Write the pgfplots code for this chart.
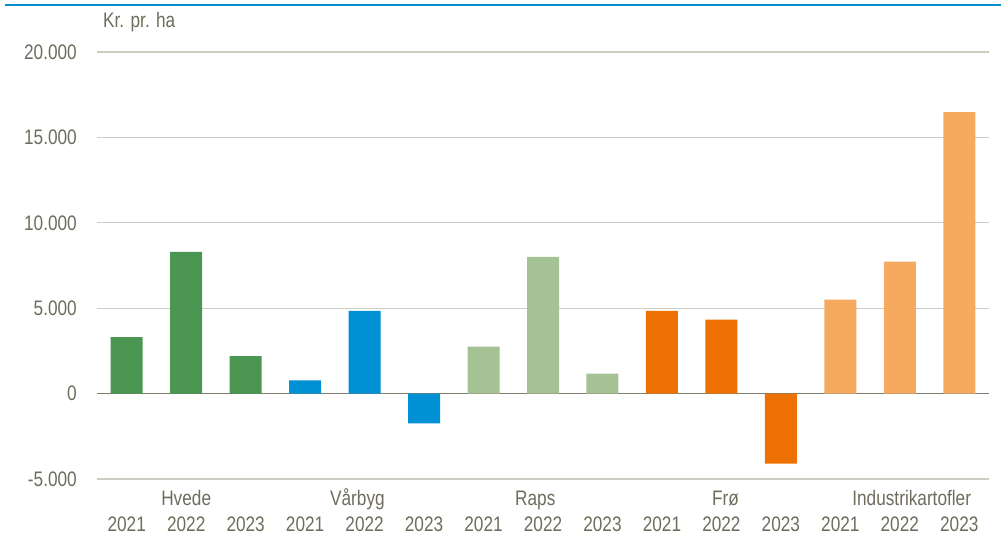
\documentclass[border=0pt]{standalone}
\usepackage{pgfplots}
\pgfplotsset{compat=1.18}
\usepackage{fontspec}
\setmainfont{Liberation Sans}[FakeStretch=0.82]
\definecolor{dgreen}{HTML}{4A9652}
\definecolor{cblue}{HTML}{0090D4}
\definecolor{lgreen}{HTML}{A5C295}
\definecolor{corange}{HTML}{EE7203}
\definecolor{lorange}{HTML}{F6AA60}
\definecolor{textgray}{RGB}{110,108,92}
\definecolor{gridgray}{RGB}{205,205,196}
\definecolor{zerogray}{RGB}{128,126,112}
\definecolor{topblue}{HTML}{0090D0}
\newcommand{\fs}{\fontsize{21}{24}\selectfont}
\begin{document}
\begin{tikzpicture}[x=1pt,y=1pt]
\path[use as bounding box] (0,0) rectangle (1001,535);
\draw[topblue, line width=2.6pt] (5,530) -- (1001,530);
\node[anchor=west, inner sep=0pt, font=\fs, text=textgray] at (103,513) {Kr. pr. ha};
\begin{axis}[
  at={(97pt,56pt)}, anchor=south west,
  scale only axis, width=892pt, height=427pt,
  xmin=-0.5, xmax=14.5, ymin=-5000, ymax=20000,
  ytick={-5000,0,5000,10000,15000,20000},
  scaled y ticks=false,
  xtick={0,...,14},
  xticklabels={2021,2022,2023,2021,2022,2023,2021,2022,2023,2021,2022,2023,2021,2022,2023},
  axis line style={draw=none},
  major tick length=0pt,
  ymajorgrids, grid style={draw=gridgray, line width=1.2pt},
  extra y ticks={0}, extra y tick labels={},
  extra y tick style={grid style={draw=zerogray, line width=1.8pt}},
  ticklabel style={font=\fs, text=textgray},
  yticklabel style={anchor=east, inner sep=0pt, xshift=-20pt},
  xticklabel style={anchor=base, inner sep=0pt, yshift=-53pt},
  /pgf/number format/.cd, fixed, precision=0, 1000 sep={.}, assume math mode=true,
  /pgfplots/.cd,
  ybar, bar width=32pt, bar shift=0pt,
  clip=false,
]
\addplot[fill=dgreen, draw=none] coordinates {(0,3300) (1,8300) (2,2200)};
\addplot[fill=cblue, draw=none] coordinates {(3,780) (4,4850) (5,-1750)};
\addplot[fill=lgreen, draw=none] coordinates {(6,2750) (7,8000) (8,1170)};
\addplot[fill=corange, draw=none] coordinates {(9,4850) (10,4330) (11,-4100)};
\addplot[fill=lorange, draw=none] coordinates {(12,5500) (13,7720) (14,16480)};
\node[anchor=base, inner sep=0pt, yshift=-27pt, font=\fs, text=textgray] at (axis cs:1,-5000) {Hvede};
\node[anchor=base, inner sep=0pt, yshift=-27pt, font=\fs, text=textgray] at (axis cs:3.88,-5000) {Vårbyg};
\node[anchor=base, inner sep=0pt, yshift=-27pt, font=\fs, text=textgray] at (axis cs:6.87,-5000) {Raps};
\node[anchor=base, inner sep=0pt, yshift=-27pt, font=\fs, text=textgray] at (axis cs:10.07,-5000) {Frø};
\node[anchor=base, inner sep=0pt, yshift=-27pt, font=\fs, text=textgray] at (axis cs:13.2,-5000) {Industrikartofler};
\end{axis}
\end{tikzpicture}
\end{document}
